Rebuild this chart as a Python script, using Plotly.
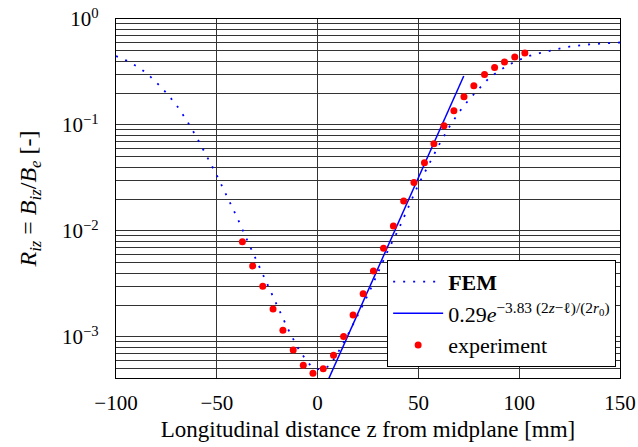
import plotly.graph_objects as go

# FEM simulation (dotted)
fem_z = [-100, -95, -90, -85, -80, -75, -70, -65, -60, -55, -50, -45, -40, -35, -30,
         -25, -20, -15, -10, -5, -2, 0, 3, 6, 10, 15, 20, 25, 30, 35, 40, 45, 50, 55,
         60, 65, 70, 75, 80, 85, 90, 95, 100, 105, 110, 115, 120, 125, 130, 135, 140, 145, 150]
fem_r = [0.447, 0.407, 0.361, 0.311, 0.253, 0.201, 0.154, 0.111, 0.0767, 0.0516, 0.0336,
         0.0213, 0.0135, 0.00824, 0.00508, 0.00315, 0.00197, 0.00122, 0.000802, 0.000575,
         0.000513, 0.000495, 0.000501, 0.000537, 0.000708, 0.00105, 0.00162, 0.00251,
         0.00407, 0.00661, 0.0102, 0.0168, 0.0275, 0.0417, 0.0638, 0.0938, 0.131, 0.173,
         0.221, 0.277, 0.324, 0.372, 0.412, 0.449, 0.476, 0.504, 0.525, 0.550, 0.565,
         0.577, 0.585, 0.593, 0.600]

# exponential fit line endpoints
fit_z = [0.0, 72.5]
fit_r = [0.000235, 0.29]

# experiment
exp_z = [-37.3, -32.2, -27.2, -22.1, -17.2, -12.1, -7.1, -2.3, 2.8, 7.9, 12.9, 17.6,
         22.6, 27.7, 32.7, 37.6, 42.7, 47.8, 53.0, 57.7, 62.7, 67.6, 72.6, 77.5, 82.8,
         87.8, 92.7, 97.8, 102.8]
exp_r = [0.00792, 0.00468, 0.00301, 0.00184, 0.00116, 0.000753, 0.000541, 0.000455,
         0.000502, 0.000671, 0.00101, 0.00161, 0.00256, 0.0042, 0.00687, 0.01114, 0.0192,
         0.0286, 0.0441, 0.0667, 0.0986, 0.136, 0.185, 0.235, 0.299, 0.348, 0.393, 0.439,
         0.478]

x_ticks = [-100, -50, 0, 50, 100, 150]
x_ticktext = ["\u2212100", "\u221250", "0", "50", "100", "150"]
y_ticks = [1e-3, 1e-2, 1e-1, 1]
y_ticktext = ["10<sup>\u22123</sup>", "10<sup>\u22122</sup>", "10<sup>\u22121</sup>", "10<sup>0</sup>"]
y_minor = [m * 10.0 ** e for e in (-4, -3, -2, -1) for m in range(2, 10)]

FONT = "Liberation Serif"

fig = go.Figure()
fig.add_trace(go.Scatter(x=fem_z, y=fem_r, mode="lines", name="<b>FEM</b>",
                         line=dict(color="#0000ff", width=1.8, dash="2px,8px")))
fig.add_trace(go.Scatter(x=fit_z, y=fit_r, mode="lines",
                         name="0.29<i>e</i><sup>\u22123.83 (2<i>z</i>\u2212\u2113)/(2<i>r</i><sub>0</sub>)</sup>",
                         line=dict(color="#0000ff", width=1.5)))
fig.add_trace(go.Scatter(x=exp_z, y=exp_r, mode="markers", name="experiment",
                         marker=dict(color="#ff0000", size=7)))

fig.update_layout(
    width=638, height=447,
    margin=dict(l=116, r=18, t=19, b=69),
    paper_bgcolor="white", plot_bgcolor="white",
    font=dict(family=FONT, size=21, color="black"),
    showlegend=True,
    legend=dict(x=0.538, y=0.329, xanchor="left", yanchor="top",
                bgcolor="white", bordercolor="black", borderwidth=1,
                font=dict(family=FONT, size=22), tracegroupgap=0,
                itemwidth=50),
)
fig.update_xaxes(range=[-100, 150], tickvals=x_ticks, ticktext=x_ticktext,
                 showgrid=True, gridcolor="#333333", gridwidth=1,
                 showline=True, linecolor="black", linewidth=1.2, mirror=True,
                 ticks="", zeroline=False, automargin=False, ticklabelstandoff=6,
                 tickfont=dict(family=FONT, size=21),
                 title=dict(text="Longitudinal distance z from midplane [mm]",
                            font=dict(family=FONT, size=23), standoff=6))
fig.update_yaxes(type="log", range=[-3.387, 0], tickvals=y_ticks, ticktext=y_ticktext,
                 showgrid=True, gridcolor="#333333", gridwidth=1,
                 minor=dict(tickvals=y_minor, showgrid=True, gridcolor="#333333", gridwidth=1, ticks=""),
                 showline=True, linecolor="black", linewidth=1.2, mirror=True,
                 ticks="", zeroline=False, automargin=False, ticklabelstandoff=12,
                 tickfont=dict(family=FONT, size=21),
                 title=dict(text="<i>R</i><sub><i>iz</i></sub> = <i>B</i><sub><i>iz</i></sub>/<i>B</i><sub><i>e</i></sub> [-]",
                            font=dict(family=FONT, size=24), standoff=18))

fig.write_html("out.html")
